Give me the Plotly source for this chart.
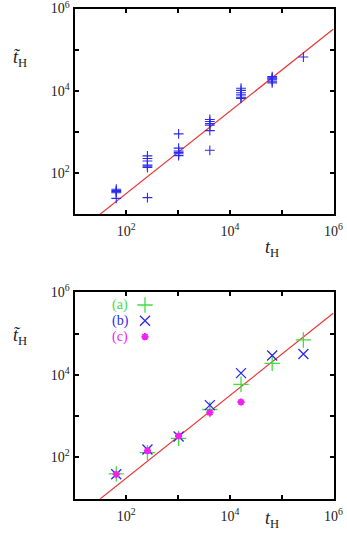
import plotly.graph_objects as go

# ---------------- data ----------------
# top panel: all runs (blue +)
top_t = [64, 64, 64, 64, 64,
         256, 256, 256, 256, 256, 256, 256,
         1024, 1024, 1024, 1024, 1024, 1024,
         4096, 4096, 4096, 4096, 4096, 4096,
         16384, 16384, 16384, 16384, 16384, 16384,
         65536, 65536, 65536, 65536, 65536, 65536,
         262144]
top_tilde = [40, 37, 35, 33, 24,
             260, 225, 195, 155, 145, 135, 25,
             890, 400, 340, 315, 293, 263,
             2000, 1780, 1590, 1450, 1070, 355,
             11500, 10200, 8900, 7900, 6900, 6500,
             22000, 20500, 19500, 18500, 17000, 15500,
             66000]

# bottom panel: series (a), (b), (c)
a_t = [64, 256, 1024, 4096, 16384, 65536, 262144]
a_tilde = [40, 130, 290, 1450, 5900, 19000, 70000]
b_t = [64, 256, 1024, 4096, 16384, 65536, 262144]
b_tilde = [39, 155, 320, 1850, 11000, 29500, 32000]
c_t = [64, 256, 1024, 4096, 16384]
c_tilde = [39, 145, 330, 1220, 2200]

# reference line
fit_t = [10, 1e6]
fit_tilde = [3.16, 3.16e5]

# ticks
major_vals = [1e2, 1e4, 1e6]
major_text = ["10<sup>2</sup>", "10<sup>4</sup>", "10<sup>6</sup>"]
minor_vals = [1e1, 1e3, 1e5]

legend_labels = ["(a)", "(b)", "(c)"]

# ---------------- styles ----------------
W, H = 347, 545
BLUE = "#2a2af0"
GREEN = "#3ede3e"
MAG = "#f020f0"
RED = "#e8383a"
FONT = "Liberation Serif"

def px_x(p):
    return p / W

def px_y(p):
    return 1 - p / H

fig = go.Figure()

def mk(symbol, size, color, width):
    return dict(symbol=symbol, size=size, color=color, line=dict(color=color, width=width))

# top panel
fig.add_trace(go.Scatter(x=fit_t, y=fit_tilde, mode="lines",
                         line=dict(color=RED, width=1.2),
                         xaxis="x", yaxis="y", showlegend=False))
fig.add_trace(go.Scatter(x=top_t, y=top_tilde, mode="markers",
                         marker=mk("cross-thin-open", 7, BLUE, 1.1),
                         xaxis="x", yaxis="y", showlegend=False))

# bottom panel
fig.add_trace(go.Scatter(x=fit_t, y=fit_tilde, mode="lines",
                         line=dict(color=RED, width=1.2),
                         xaxis="x2", yaxis="y2", showlegend=False))
fig.add_trace(go.Scatter(x=a_t, y=a_tilde, mode="markers",
                         marker=mk("cross-thin-open", 11, GREEN, 1.3),
                         xaxis="x2", yaxis="y2", showlegend=False))
fig.add_trace(go.Scatter(x=b_t, y=b_tilde, mode="markers",
                         marker=mk("x-thin-open", 10, BLUE, 1.3),
                         xaxis="x2", yaxis="y2", showlegend=False))
fig.add_trace(go.Scatter(x=c_t, y=c_tilde, mode="markers",
                         marker=mk("asterisk-open", 6, MAG, 2),
                         xaxis="x2", yaxis="y2", showlegend=False))

axis_common = dict(type="log", range=[1, 6], tickvals=major_vals, ticktext=major_text,
                   ticks="inside", ticklen=4, tickwidth=1.5, tickcolor="black",
                   minor=dict(tickvals=minor_vals, ticks="inside", ticklen=4,
                              tickwidth=1.5, tickcolor="black", showgrid=False),
                   showline=True, linewidth=2, linecolor="black", mirror="ticks",
                   showgrid=False, zeroline=False, automargin=False,
                   ticklabeloverflow="allow",
                   tickfont=dict(family=FONT, size=14, color="#222"))

xdom = [px_x(74.5), px_x(333.5)]
fig.update_layout(
    template="none",
    width=W, height=H, autosize=False,
    margin=dict(l=0, r=0, t=0, b=0, pad=0),
    paper_bgcolor="white", plot_bgcolor="rgba(0,0,0,0)",
    xaxis=dict(axis_common, domain=xdom, anchor="y", ticklabelstandoff=3),
    yaxis=dict(axis_common, domain=[px_y(214), px_y(8.5)], anchor="x"),
    xaxis2=dict(axis_common, domain=xdom, anchor="y2", ticklabelstandoff=3),
    yaxis2=dict(axis_common, domain=[px_y(498.7), px_y(292.3)], anchor="x2"),
    xaxis3=dict(domain=[0, 1], range=[0, 1], visible=False, anchor="y3", automargin=False),
    yaxis3=dict(domain=[0, 1], range=[0, 1], visible=False, anchor="x3", automargin=False),
)

ann = []
for yc_tl, yc_bl in [(45, 249), (336, 533)]:
    ann.append(dict(x=px_x(11), y=px_y(yc_tl), xref="paper", yref="paper",
                    text="<i>t̃</i><sub>H</sub>", showarrow=False,
                    font=dict(family=FONT, size=18, color="#222")))
    ann.append(dict(x=px_x(281), y=px_y(yc_bl), xref="paper", yref="paper",
                    text="<i>t</i><sub>H</sub>", showarrow=False,
                    font=dict(family=FONT, size=18, color="#222")))

# legend inside bottom panel (text left, symbol right as in the original)
leg_colors = [GREEN, BLUE, MAG]
leg_y = [305, 320.7, 336.7]
for lab, col, yy in zip(legend_labels, leg_colors, leg_y):
    ann.append(dict(x=px_x(110), y=px_y(yy), xref="paper", yref="paper",
                    text=lab, showarrow=False,
                    font=dict(family=FONT, size=14, color=col)))
fig.update_layout(annotations=ann)

sym = ["cross-thin-open", "x-thin-open", "asterisk-open"]
sizes = [11, 10, 6]
widths = [1.3, 1.3, 2]
for s, sz, wd, col, yy in zip(sym, sizes, widths, leg_colors, leg_y):
    fig.add_trace(go.Scatter(x=[px_x(145)], y=[px_y(yy)], mode="markers",
                             marker=mk(s, sz, col, wd),
                             xaxis="x3", yaxis="y3", showlegend=False, hoverinfo="skip"))

fig.write_html("out.html")
